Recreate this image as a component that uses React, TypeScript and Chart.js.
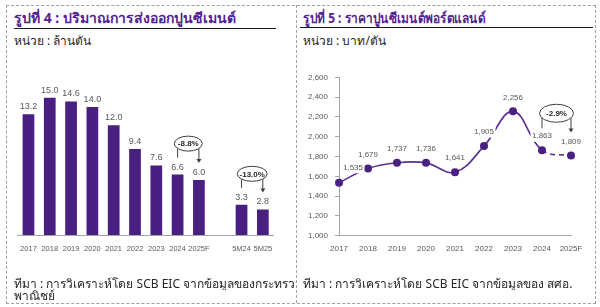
import React, { useEffect, useRef } from "react";
import { Chart, registerables } from "chart.js";
Chart.register(...registerables);

const exportCategories = ["2017", "2018", "2019", "2020", "2021", "2022", "2023", "2024", "2025F", "", "5M24", "5M25"];
const exportValues: (number | null)[] = [13.2, 15.0, 14.6, 14.0, 12.0, 9.4, 7.6, 6.6, 6.0, null, 3.3, 2.8];
const exportChanges = [
  { from: 7, to: 8, label: "-8.8%" },
  { from: 10, to: 11, label: "-13.0%" },
];

const priceCategories = ["2017", "2018", "2019", "2020", "2021", "2022", "2023", "2024", "2025F"];
const priceValues = [1535, 1679, 1737, 1736, 1641, 1905, 2256, 1863, 1809];
const priceMin = 1000;
const priceMax = 2600;
const priceStep = 200;
const priceChanges = [{ from: 7, to: 8, label: "-2.9%" }];

const BAR_COLOR = "#4a1f82";
const LINE_COLOR = "#5b2f92";
const LABEL_COLOR = "#595959";
const NARROW = "'Liberation Sans Narrow', 'Liberation Sans', Arial, sans-serif";
const SANS = "'Liberation Sans', Arial, sans-serif";
const THAI = "Tahoma, 'Noto Sans', 'DejaVu Sans', sans-serif";

function drawChange(
  ctx: CanvasRenderingContext2D,
  x1: number, y1: number, x2: number, y2: number,
  label: string, rx: number, ry: number, rise: number, gap: number, gap2: number
) {
  const cx = (x1 + x2) / 2;
  const cy = y1 - rise;
  const dx = Math.abs(x1 - cx);
  const ey = dx < rx ? ry * Math.sqrt(1 - (dx / rx) * (dx / rx)) : 0;
  ctx.save();
  ctx.strokeStyle = "#404040";
  ctx.fillStyle = "#404040";
  ctx.lineWidth = 1;
  ctx.beginPath();
  ctx.moveTo(x1, cy + ey);
  ctx.lineTo(x1, y1 - gap);
  ctx.stroke();
  ctx.beginPath();
  ctx.moveTo(x2, cy + ey);
  ctx.lineTo(x2, y2 - gap2 - 3);
  ctx.stroke();
  ctx.beginPath();
  ctx.moveTo(x2 - 2.5, y2 - gap2 - 4);
  ctx.lineTo(x2 + 2.5, y2 - gap2 - 4);
  ctx.lineTo(x2, y2 - gap2);
  ctx.closePath();
  ctx.fill();
  ctx.beginPath();
  ctx.ellipse(cx, cy, rx, ry, 0, 0, Math.PI * 2);
  ctx.fillStyle = "#ffffff";
  ctx.fill();
  ctx.stroke();
  ctx.fillStyle = "#262626";
  ctx.font = "bold 8px " + SANS;
  ctx.textAlign = "center";
  ctx.textBaseline = "middle";
  ctx.fillText(label, cx, cy + 0.5);
  ctx.restore();
}

function ExportChart() {
  const ref = useRef<HTMLCanvasElement>(null);
  useEffect(() => {
    if (!ref.current) return;
    const labelPlugin = {
      id: "barLabels",
      afterDatasetsDraw(chart: any) {
        const ctx = chart.ctx as CanvasRenderingContext2D;
        const meta = chart.getDatasetMeta(0);
        ctx.save();
        ctx.font = "9px " + NARROW;
        ctx.fillStyle = LABEL_COLOR;
        ctx.textAlign = "center";
        ctx.textBaseline = "alphabetic";
        exportValues.forEach((v, i) => {
          if (v === null) return;
          const el = meta.data[i];
          ctx.fillText(v.toFixed(1), el.x, el.y - 5);
        });
        exportChanges.forEach((c) => {
          const a = meta.data[c.from];
          const b = meta.data[c.to];
          const rx = c.label.length > 5 ? 15 : 14;
          drawChange(ctx, a.x, a.y, b.x, b.y, c.label, rx, 7.5, 31, 17, 17);
        });
        ctx.restore();
      },
    };
    const chart = new Chart(ref.current, {
      type: "bar",
      data: {
        labels: exportCategories,
        datasets: [
          {
            data: exportValues,
            backgroundColor: BAR_COLOR,
            barPercentage: 0.55,
            categoryPercentage: 1,
          },
        ],
      },
      options: {
        animation: false,
        responsive: false,
        devicePixelRatio: 1,
        layout: { padding: { left: 17.8, right: 22.5, top: 88.6, bottom: 52 } },
        plugins: { legend: { display: false }, tooltip: { enabled: false } },
        scales: {
          x: {
            grid: { display: false, drawTicks: false },
            border: { display: true, color: "#a6a6a6", width: 1 },
            ticks: {
              color: LABEL_COLOR,
              font: { size: 7.5, family: NARROW },
              padding: 9,
              maxRotation: 0,
              autoSkip: false,
            },
            afterFit: (s: any) => { s.height = 20; },
          },
          y: { display: false, min: 0, max: 16 },
        },
      },
      plugins: [labelPlugin],
    });
    return () => chart.destroy();
  }, []);
  return (
    <canvas
      ref={ref}
      width={296}
      height={307}
      style={{ position: "absolute", left: 0, top: 0, width: 296, height: 307 }}
    />
  );
}

function PriceChart() {
  const ref = useRef<HTMLCanvasElement>(null);
  useEffect(() => {
    if (!ref.current) return;
    const labelPlugin = {
      id: "pointLabels",
      afterDatasetsDraw(chart: any) {
        const ctx = chart.ctx as CanvasRenderingContext2D;
        const meta = chart.getDatasetMeta(0);
        ctx.save();
        ctx.font = "8px " + SANS;
        ctx.textAlign = "center";
        ctx.textBaseline = "middle";
        priceValues.forEach((v, i) => {
          const el = meta.data[i];
          const txt = v.toLocaleString("en-US");
          const dx = i === 0 ? 14 : 0;
          const dy = i === 0 ? -15 : -14;
          const x = el.x + dx;
          const y = el.y + dy;
          const w = ctx.measureText(txt).width + 3;
          ctx.fillStyle = "#ffffff";
          ctx.fillRect(x - w / 2, y - 5.5, w, 11);
          ctx.fillStyle = LABEL_COLOR;
          ctx.fillText(txt, x, y);
        });
        priceChanges.forEach((c) => {
          const a = meta.data[c.from];
          const b = meta.data[c.to];
          drawChange(ctx, a.x, a.y, b.x, b.y, c.label, 17, 9, 37, 22, 23);
        });
        ctx.restore();
      },
    };
    const chart = new Chart(ref.current, {
      type: "line",
      data: {
        labels: priceCategories,
        datasets: [
          {
            data: priceValues,
            borderColor: LINE_COLOR,
            borderWidth: 1.6,
            tension: 0.4,
            pointRadius: 4,
            pointBackgroundColor: "#4a2080",
            pointBorderColor: "#4a2080",
            pointBorderWidth: 0,
            segment: {
              borderDash: (ctx: any) => (ctx.p0DataIndex >= 7 ? [5, 4] : undefined),
            },
          },
        ],
      },
      options: {
        animation: false,
        responsive: false,
        devicePixelRatio: 1,
        layout: { padding: { left: 3, right: 29, top: 77.3, bottom: 51.3 } },
        plugins: { legend: { display: false }, tooltip: { enabled: false } },
        scales: {
          x: {
            offset: false,
            grid: { display: false, drawTicks: false },
            border: { display: true, color: "#a6a6a6", width: 1 },
            ticks: {
              color: LABEL_COLOR,
              font: { size: 8, family: SANS },
              padding: 8,
              maxRotation: 0,
              autoSkip: false,
            },
            afterFit: (s: any) => { s.height = 20; },
          },
          y: {
            min: priceMin,
            max: priceMax,
            grid: { drawOnChartArea: false, drawTicks: true, tickLength: 4, color: "#a6a6a6" },
            border: { display: true, color: "#a6a6a6", width: 1 },
            ticks: {
              stepSize: priceStep,
              color: LABEL_COLOR,
              font: { size: 8, family: SANS },
              padding: 7,
              callback: (v: any) => Number(v).toLocaleString("en-US"),
            },
            afterFit: (s: any) => { s.width = 40; },
          },
        },
      },
      plugins: [labelPlugin],
    });
    return () => chart.destroy();
  }, []);
  return (
    <canvas
      ref={ref}
      width={304}
      height={307}
      style={{ position: "absolute", left: 296, top: 0, width: 304, height: 307 }}
    />
  );
}

const titleStyle: React.CSSProperties = {
  position: "absolute",
  top: 9,
  fontFamily: THAI,
  fontWeight: "bold",
  fontSize: 14,
  color: "#55238f",
  whiteSpace: "nowrap",
  lineHeight: "18px",
  transformOrigin: "left center",
};
const unitStyle: React.CSSProperties = {
  position: "absolute",
  top: 33,
  fontFamily: THAI,
  fontSize: 12,
  color: "#262626",
  whiteSpace: "nowrap",
  lineHeight: "16px",
};
const srcStyle: React.CSSProperties = {
  position: "absolute",
  fontFamily: THAI,
  fontSize: 12,
  color: "#262626",
  whiteSpace: "nowrap",
  lineHeight: "13px",
  overflow: "hidden",
};

export default function App() {
  return (
    <div style={{ position: "absolute", left: 0, top: 0, width: 600, height: 307, background: "#fff", overflow: "hidden" }}>
      <div style={{ position: "absolute", left: 6, top: 5, width: 588, height: 297, border: "1px dashed #a0a0a0" }} />
      <div style={{ position: "absolute", left: 296, top: 5, width: 0, height: 298, borderLeft: "1px dashed #a0a0a0" }} />
      <div style={{ ...titleStyle, left: 14 }}>รูปที่ 4 : ปริมาณการส่งออกปูนซีเมนต์</div>
      <div style={{ position: "absolute", left: 14, top: 28, width: 262, height: 1, background: "#1a1a1a" }} />
      <div style={{ ...unitStyle, left: 14 }}>หน่วย : ล้านตัน</div>
      <div style={{ ...titleStyle, left: 303, transform: "scaleX(0.85)" }}>รูปที่ 5 : ราคาปูนซีเมนต์พอร์ตแลนด์</div>
      <div style={{ position: "absolute", left: 300, top: 27, width: 293, height: 1, background: "#1a1a1a" }} />
      <div style={{ ...unitStyle, left: 303 }}>หน่วย : บาท/ตัน</div>
      <ExportChart />
      <PriceChart />
      <div style={{ ...srcStyle, left: 14, top: 277, width: 280 }}>ที่มา : การวิเคราะห์โดย SCB EIC จากข้อมูลของกระทรวง</div>
      <div style={{ ...srcStyle, left: 14, top: 289 }}>พาณิชย์</div>
      <div style={{ ...srcStyle, left: 303, top: 277 }}>ที่มา : การวิเคราะห์โดย SCB EIC จากข้อมูลของ สศอ.</div>
    </div>
  );
}
